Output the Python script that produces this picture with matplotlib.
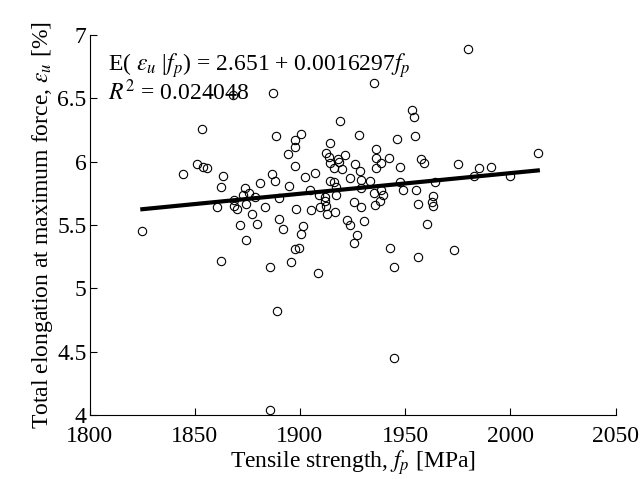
import matplotlib
matplotlib.use('Agg')
import matplotlib.pyplot as plt
import numpy as np

plt.rcParams['font.family'] = 'serif'
plt.rcParams['font.serif'] = ['Liberation Serif', 'DejaVu Serif']
plt.rcParams['mathtext.fontset'] = 'stix'

# tensile strength f_p [MPa]
FP = [1868.1, 1887.1, 1853.3, 1918.9, 1888.8, 1900.4, 1897.5, 1897.4, 1894.1, 1914.1,
      1912.6, 1913.8, 1921.3, 1918.1, 1918.6, 1914.5, 1926.3, 1928.1, 1897.5, 1916.0,
      1920.0, 1850.9, 1854.0, 1855.6, 1844.5, 1863.5, 1886.9, 1888.0, 1862.7, 1880.9,
      1873.8, 1894.8, 1902.4, 1907.0, 1914.1, 1916.0, 1917.3, 1924.0, 1904.6, 1873.0,
      1875.8, 1878.5, 1868.7, 1890.1, 1909.1, 1911.8, 1917.0, 1860.4, 1868.6, 1869.9,
      1874.3, 1883.3, 1877.0, 1898.3, 1905.1, 1909.4, 1912.2, 1912.9, 1916.5, 1922.4,
      1923.9, 1925.9, 1871.4, 1879.6, 1890.1, 1901.2, 1825.1, 1892.0, 1900.5, 1874.3,
      1897.4, 1899.6, 1862.3, 1885.8, 1895.6, 1908.4, 1889.3, 1885.8, 1927.1, 1925.5,
      1980.0, 1935.4, 1953.1, 1954.2, 1946.1, 1954.5, 1936.3, 1936.3, 1938.5, 1942.5,
      1928.4, 1936.3, 1947.4, 1957.3, 1959.1, 1975.0, 1985.0, 1990.7, 1982.8, 1999.6,
      2013.0, 1928.9, 1933.1, 1947.4, 1964.0, 1928.9, 1935.0, 1938.7, 1939.4, 1938.2,
      1948.9, 1955.0, 1963.2, 1928.9, 1935.6, 1956.0, 1962.9, 1963.2, 1930.4, 1960.3,
      1943.0, 1955.9, 1973.3, 1944.7, 1944.7, 1912.0]

# total elongation at maximum force eps_u [%]
EPS_U = [6.53, 6.54, 6.26, 6.32, 6.20, 6.22, 6.17, 6.12, 6.06, 6.15,
         6.07, 6.04, 6.05, 6.02, 6.00, 5.99, 5.98, 6.21, 5.97, 5.95,
         5.94, 5.98, 5.96, 5.95, 5.90, 5.89, 5.90, 5.85, 5.80, 5.83,
         5.79, 5.81, 5.88, 5.91, 5.85, 5.84, 5.80, 5.87, 5.78, 5.74,
         5.75, 5.72, 5.70, 5.71, 5.74, 5.72, 5.74, 5.64, 5.65, 5.63,
         5.67, 5.64, 5.59, 5.63, 5.62, 5.64, 5.65, 5.59, 5.60, 5.54,
         5.50, 5.68, 5.50, 5.51, 5.55, 5.49, 5.45, 5.47, 5.43, 5.38,
         5.31, 5.32, 5.22, 5.17, 5.21, 5.12, 4.82, 4.04, 5.42, 5.36,
         6.89, 6.62, 6.41, 6.35, 6.18, 6.20, 6.10, 6.03, 5.99, 6.03,
         5.93, 5.95, 5.96, 6.02, 5.99, 5.98, 5.95, 5.96, 5.89, 5.89,
         6.07, 5.86, 5.85, 5.84, 5.84, 5.79, 5.75, 5.78, 5.74, 5.69,
         5.78, 5.78, 5.73, 5.64, 5.66, 5.67, 5.68, 5.65, 5.53, 5.51,
         5.32, 5.25, 5.30, 5.17, 4.45, 5.69]

A0 = 2.651
A1 = 0.0016297
R2 = 0.024048

fig = plt.figure(figsize=(6.44, 4.79), dpi=100)
ax = fig.add_axes([0.139, 0.1336, 0.817, 0.793])

ax.plot(FP, EPS_U, 'o', mfc='none', mec='black', ms=6, mew=0.8)
xl = np.array([min(FP), max(FP)])
ax.plot(xl, A0 + A1 * xl, color='black', lw=3)

ax.set_xlim(1800, 2050)
ax.set_ylim(4, 7)
ax.set_xticks([1800, 1850, 1900, 1950, 2000, 2050])
ax.set_yticks([4, 4.5, 5, 5.5, 6, 6.5, 7])
ax.set_yticklabels(['4', '4.5', '5', '5.5', '6', '6.5', '7'])
ax.tick_params(direction='in', length=5, labelsize=17, width=0.8)
ax.tick_params(axis='x', pad=8)
ax.tick_params(axis='y', pad=2)
ax.spines['top'].set_visible(False)
ax.spines['right'].set_visible(False)

ax.set_xlabel(r'Tensile strength, $f_p$ [MPa]', fontsize=17, labelpad=1)
ax.set_ylabel(r'Total elongation at maximum force, $\varepsilon_u$ [%]', fontsize=17, labelpad=2)

ax.text(1809, 6.76, r'E( $\varepsilon_u$ |$f_p$) = %.3f + %.7f$f_p$' % (A0, A1), fontsize=17, va='center')
ax.text(1809, 6.55, r'$R^2$ = %.6f' % R2, fontsize=17, va='center')

fig.savefig('out.png', dpi=100)
